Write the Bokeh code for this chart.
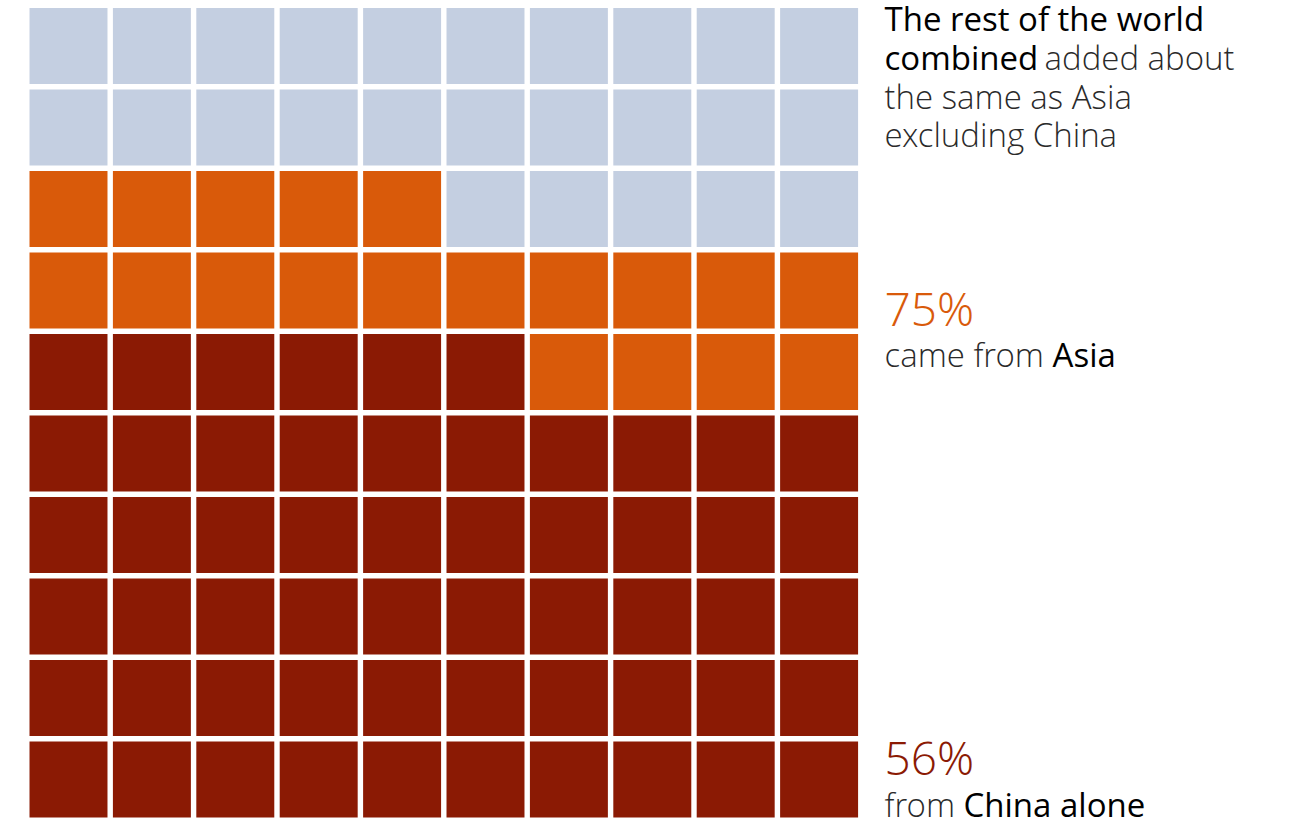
from bokeh.plotting import figure
from bokeh.models import Range1d, Label, ColumnDataSource
from bokeh.embed import file_html
from bokeh.resources import INLINE

# ---- data ----
groups = ["China", "Rest of Asia", "Rest of the world"]
counts = [56, 19, 25]
colors = ["#8b1a04", "#d95a0a", "#c4cfe1"]
n_cols = 10
n_rows = 10

# build waffle cells (fill row by row from bottom-left)
xs, ys, fills = [], [], []
idx = 0
for g, c, col in zip(groups, counts, colors):
    for _ in range(c):
        xs.append(idx % n_cols)
        ys.append(idx // n_cols)
        fills.append(col)
        idx += 1
src = ColumnDataSource(dict(x=xs, y=ys, fill=fills))

W, H = 1297, 819
X0 = -0.8153
p = figure(width=W, height=H, output_backend="svg", toolbar_location=None,
           x_range=Range1d(X0, X0 + W / 83.4), y_range=Range1d(-0.491, 9.558),
           min_border=0, outline_line_color=None, background_fill_color="white",
           border_fill_color="white")
p.axis.visible = False
p.xgrid.visible = False
p.ygrid.visible = False

p.rect(x="x", y="y", width=0.935, height=0.9325, source=src,
       fill_color="fill", line_color=None)

LIGHT = "'Open Sans Light', 'Lato Light', 'Open Sans'"
REG = "Open Sans"
DARK = "#000000"
GREY = "#2a2a2a"
FS = "33px"
BIG = "46px"

def lab(text, x, y, font, color, size=FS):
    p.add_layout(Label(x=x, y=y, text=text, text_font=font, text_color=color,
                       text_font_size=size, text_baseline="alphabetic",
                       text_align="left"))

TX = 9.784
lab("The rest of the world", TX, 9.340, REG, DARK)
lab("combined", TX, 8.855, REG, DARK)
lab("added about", 11.703, 8.855, LIGHT, GREY)
lab("the same as Asia", TX, 8.383, LIGHT, GREY)
lab("excluding China", TX, 7.910, LIGHT, GREY)

lab("75%", TX, 5.791, LIGHT, colors[1], BIG)
lab("came from", TX, 5.217, LIGHT, GREY)
lab("Asia", 11.799, 5.217, REG, DARK)

lab("56%", TX, 0.270, LIGHT, colors[0], BIG)
lab("from", TX, -0.304, LIGHT, GREY)
lab("China alone", 10.731, -0.304, REG, DARK)

open("out.html", "w").write(file_html(p, INLINE))
